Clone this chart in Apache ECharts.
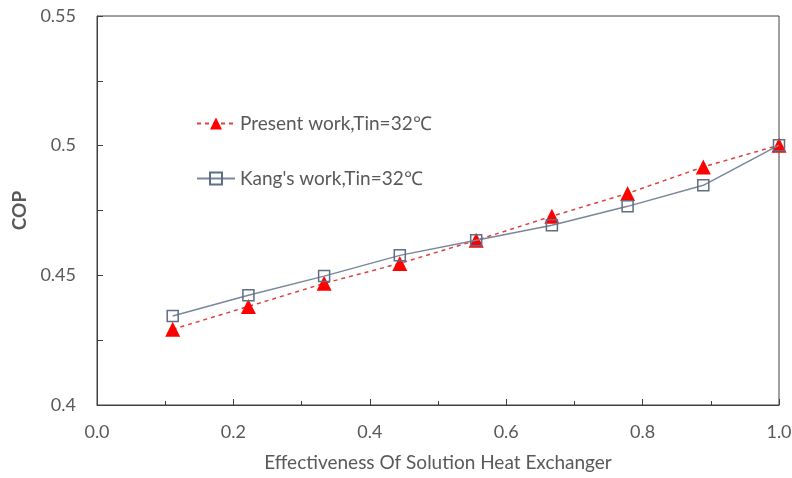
<!DOCTYPE html>
<html>
<head>
<meta charset="utf-8">
<script src="https://cdn.jsdelivr.net/npm/echarts@6/dist/echarts.min.js"></script>
<style>
    html, body { margin: 0; padding: 0; background: #fff; }
    #cop_chart { width: 792px; height: 478px; }
</style>
</head>
<body>
<div id="cop_chart"></div>
<script>
// effectiveness of solution heat exchanger
const effectiveness = [0.111, 0.222, 0.333, 0.444, 0.556, 0.667, 0.778, 0.889, 1.0]
// COP values
const presentCop = [0.4292, 0.438, 0.4469, 0.4546, 0.4635, 0.4728, 0.4816, 0.4918, 0.5002]
const kangCop = [0.4343, 0.4423, 0.4497, 0.4577, 0.4635, 0.4693, 0.4766, 0.4847, 0.5002]
const seriesNames = ['Present work,Tin=32\u2103', "Kang's work,Tin=32\u2103"]

const textColor = '#595959'
const fontFamily = 'Lato, "Liberation Sans", sans-serif'

function pairs(xs, ys) {
    return xs.map((x, i) => [x, ys[i]])
}

const myChart = echarts.init(document.getElementById('cop_chart'))
const option = {
    animation: false,
    textStyle: { fontFamily: fontFamily },
    grid: {
        left: 97,
        right: 13,
        top: 16,
        bottom: 73,
        outerBoundsMode: 'none',
        show: true,
        borderColor: '#404040',
        borderWidth: 1
    },
    legend: {
        data: seriesNames,
        orient: 'vertical',
        left: 191,
        top: 109,
        itemWidth: 38,
        itemHeight: 15,
        itemGap: 36,
        textStyle: { color: textColor, fontSize: 19, fontFamily: fontFamily }
    },
    xAxis: {
        type: 'value',
        min: 0,
        max: 1,
        interval: 0.2,
        name: 'Effectiveness Of Solution Heat Exchanger',
        nameLocation: 'middle',
        nameGap: 48,
        nameTextStyle: { color: textColor, fontSize: 19 },
        axisLine: { show: true, lineStyle: { color: '#404040' } },
        axisTick: { show: true, inside: true, length: 6, lineStyle: { color: '#404040' } },
        minorTick: { show: true, splitNumber: 2, length: 4, lineStyle: { color: '#404040' } },
        splitLine: { show: false },
        axisLabel: {
            color: textColor,
            fontSize: 18,
            margin: 18,
            formatter: (val) => val.toFixed(1)
        }
    },
    yAxis: {
        type: 'value',
        min: 0.4,
        max: 0.55,
        interval: 0.05,
        name: 'COP',
        nameLocation: 'middle',
        nameGap: 68,
        nameTextStyle: { color: textColor, fontSize: 19, fontWeight: 'bold' },
        axisLine: { show: true, lineStyle: { color: '#404040' } },
        axisTick: { show: true, inside: true, length: 6, lineStyle: { color: '#404040' } },
        minorTick: { show: true, splitNumber: 2, length: 6, lineStyle: { color: '#404040' } },
        splitLine: { show: false },
        axisLabel: {
            color: textColor,
            fontSize: 18,
            margin: 21,
            formatter: (val) => String(Math.round(val * 100) / 100)
        }
    },
    series: [
        {
            name: seriesNames[0],
            type: 'line',
            data: pairs(effectiveness, presentCop),
            symbol: 'triangle',
            symbolSize: 15,
            itemStyle: { color: '#ff0000' },
            lineStyle: { color: '#e04040', width: 1.5, type: [4, 4] },
            z: 2
        },
        {
            name: seriesNames[1],
            type: 'line',
            data: pairs(effectiveness, kangCop),
            symbol: 'rect',
            symbolSize: 11,
            itemStyle: { color: 'rgba(0,0,0,0)', borderColor: '#5f6e82', borderWidth: 1.5 },
            lineStyle: { color: '#7a879a', width: 1.5 },
            z: 3
        }
    ]
}
myChart.setOption(option)
</script>
</body>
</html>
